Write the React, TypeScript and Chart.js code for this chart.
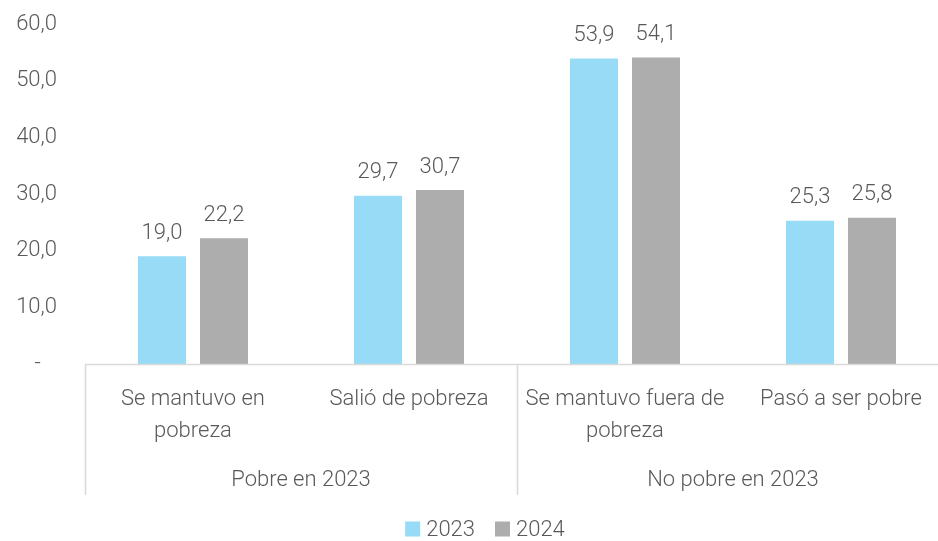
import React, { useEffect, useRef } from "react";
import { Chart, registerables } from "chart.js";

Chart.register(...registerables);

const categories = ["Se mantuvo en pobreza", "Salió de pobreza", "Se mantuvo fuera de pobreza", "Pasó a ser pobre"];
const categoryLines = [["Se mantuvo en", "pobreza"], ["Salió de pobreza"], ["Se mantuvo fuera de", "pobreza"], ["Pasó a ser pobre"]];
const groups = ["Pobre en 2023", "No pobre en 2023"];
const groupSpans = [[0, 1], [2, 3]];
const seriesNames = ["2023", "2024"];
const values2023 = [19.0, 29.7, 53.9, 25.3];
const values2024 = [22.2, 30.7, 54.1, 25.8];
const colors = ["#97DBF7", "#ADADAD"];

const FONT = "Roboto, 'Open Sans', sans-serif";
const WEIGHT = "300";
const SIZE = 22;
const TEXT = "#595959";
const PAGE_W = 938;
const CANVAS_W = 949;
const fmt = (v: number) => v.toFixed(1).replace(".", ",");

export default function App() {
  const ref = useRef<HTMLCanvasElement | null>(null);
  useEffect(() => {
    if (!ref.current) return;
    const overlay = {
      id: "overlay",
      afterDatasetsDraw(chart: any) {
        const ctx = chart.ctx;
        const xs = chart.scales.x;
        const area = chart.chartArea;
        ctx.save();
        ctx.font = `${WEIGHT} ${SIZE}px ${FONT}`;
        ctx.fillStyle = TEXT;
        ctx.textAlign = "center";
        ctx.textBaseline = "middle";
        // data labels
        chart.data.datasets.forEach((ds: any, di: number) => {
          const meta = chart.getDatasetMeta(di);
          meta.data.forEach((bar: any, i: number) => {
            ctx.fillText(fmt(ds.data[i]), bar.x, bar.y - 23);
          });
        });
        // axis line
        ctx.strokeStyle = "#D9D9D9";
        ctx.lineWidth = 1.5;
        ctx.beginPath();
        ctx.moveTo(area.left, area.bottom + 0.5);
        ctx.lineTo(chart.width, area.bottom + 0.5);
        ctx.stroke();
        // category labels
        categoryLines.forEach((lines, i) => {
          const x = xs.getPixelForValue(i);
          lines.forEach((ln, k) => ctx.fillText(ln, x, area.bottom + 35 + k * 32));
        });
        // group labels and separators
        const half = (xs.getPixelForValue(1) - xs.getPixelForValue(0)) / 2;
        groups.forEach((g, gi) => {
          const [a, b] = groupSpans[gi];
          const l = xs.getPixelForValue(a) - half;
          const r = xs.getPixelForValue(b) + half;
          ctx.fillText(g, (l + r) / 2, area.bottom + 116);
          ctx.beginPath();
          ctx.moveTo(Math.round(l) + 0.5, area.bottom);
          ctx.lineTo(Math.round(l) + 0.5, area.bottom + 131);
          ctx.stroke();
        });
        // legend
        const ly = 529;
        ctx.textAlign = "left";
        const items = seriesNames.map((n, i) => ({ n, c: colors[i] }));
        const box = 15;
        const gap = 6;
        const itemGap = 20;
        const widths = items.map((it) => box + gap + ctx.measureText(it.n).width);
        const total = widths.reduce((a, b) => a + b, 0) + itemGap * (items.length - 1);
        let x = PAGE_W / 2 - total / 2 + 16;
        items.forEach((it, i) => {
          ctx.fillStyle = it.c;
          ctx.fillRect(x, ly - box / 2, box, box);
          ctx.fillStyle = TEXT;
          ctx.fillText(it.n, x + box + gap, ly + 1);
          x += widths[i] + itemGap;
        });
        ctx.restore();
      },
    };
    const chart = new Chart(ref.current, {
      type: "bar",
      data: {
        labels: categories,
        datasets: [
          { label: seriesNames[0], data: values2023, backgroundColor: colors[0] },
          { label: seriesNames[1], data: values2024, backgroundColor: colors[1] },
        ],
      },
      options: {
        animation: false,
        responsive: false,
        maintainAspectRatio: false,
        layout: { padding: { top: 24, right: 0, left: 0, bottom: 0 } },
        datasets: { bar: { categoryPercentage: 0.574, barPercentage: 0.774 } } as any,
        plugins: { legend: { display: false }, tooltip: { enabled: false } },
        scales: {
          x: {
            grid: { display: false, drawTicks: false },
            border: { display: false },
            ticks: { display: false },
            afterFit: (s: any) => { s.height = 177; },
          },
          y: {
            min: 0,
            max: 60,
            grid: { display: false, drawTicks: false },
            border: { display: false },
            ticks: {
              stepSize: 10,
              padding: 28,
              color: TEXT,
              font: { family: FONT, size: SIZE, weight: WEIGHT as any },
              callback: (v: any) => (Number(v) === 0 ? "-   " : fmt(Number(v))),
            },
            afterFit: (s: any) => { s.width = 85; s.paddingTop = 0; s.paddingBottom = 0; },
          },
        },
      },
      plugins: [overlay],
    });
    return () => chart.destroy();
  }, []);
  return (
    <div style={{ position: "fixed", left: 0, top: 0, width: PAGE_W, height: 541, overflow: "hidden", background: "#fff" }}>
      <canvas ref={ref} width={CANVAS_W} height={541} style={{ display: "block" }} />
    </div>
  );
}
